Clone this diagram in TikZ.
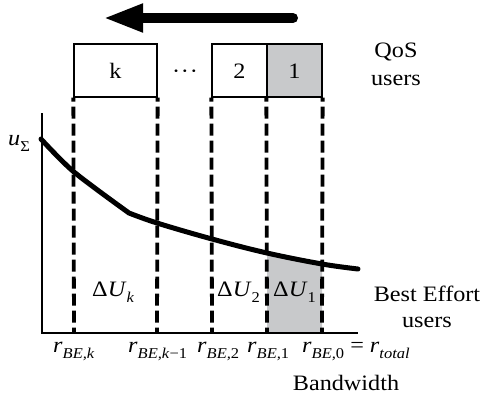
\documentclass[tikz,border=0pt]{standalone}
\usepackage{fontspec}
\setmainfont{Liberation Serif}[FakeStretch=1.1]
\usetikzlibrary{arrows.meta}
\definecolor{qosgray}{RGB}{200,201,203}
\newcommand{\mysub}[1]{\raisebox{-6pt}{\fontsize{15}{15}\selectfont #1}}
\begin{document}
\begin{tikzpicture}[x=1pt,y=-1pt,
  txt/.style={font=\fontsize{22}{26}\selectfont, inner sep=0pt},
  qbox/.style={draw, line width=1.3pt, minimum width=#1, minimum height=53pt, inner sep=0pt, font=\fontsize{22}{26}\selectfont},
  dashline/.style={line width=3.8pt, dash pattern=on 12pt off 5pt, dash phase=8pt},
  axisline/.style={line width=1.3pt},
  curveline/.style={line width=5pt, line cap=round, line join=round}]
\useasboundingbox (0,0) rectangle (483,399);

% direction arrow
\coordinate (arrs) at (293,18);
\coordinate (arre) at (103,18);
\draw[line width=10pt, line cap=round, -{Triangle[length=40pt 0, width=26pt 0]}] (arrs) -- (arre);

% QoS boxes
\node[qbox=83pt] (bk) at (115.5,70.5) {};
\node[txt, anchor=base] (lk) at (115.5,78) {k};
\node[txt, anchor=base] (dots) at (185,78) {·\hspace{0.8pt}·\hspace{0.8pt}·};
\node[qbox=55pt] (b2) at (239.5,70.5) {};
\node[txt, anchor=base] (l2) at (239.5,78) {2};
\node[qbox=55pt, fill=qosgray] (b1) at (294.5,70.5) {};
\node[txt, anchor=base] (l1) at (294.5,78) {1};
\node[txt, anchor=base] (qos) at (396,57) {QoS};
\node[txt, anchor=base] (qusers) at (396,85) {users};

% axis coordinates
\coordinate (origin) at (42,333);
\coordinate (ytop) at (42,113);
\coordinate (xend) at (358,333);
\coordinate (ak) at (74,333);
\coordinate (ak1) at (157,333);
\coordinate (a2) at (212,333);
\coordinate (a1) at (267,333);
\coordinate (a0) at (322,333);

% shaded Delta U_1 region
\fill[qosgray] (267,253.5) -- (294.5,259.3) -- (322,264) -- (a0) -- (a1) -- cycle;

% axes
\draw[axisline] (ytop) -- (origin) -- (xend);

% dashed lines
\draw[dashline] (bk.south west) -- (ak);
\draw[dashline] (bk.south east) -- (ak1);
\draw[dashline] (b2.south west) -- (a2);
\draw[dashline] (b1.south west) -- (a1);
\draw[dashline] (b1.south east) -- (a0);

% utility curve
\draw[curveline] plot[smooth, tension=0.5] coordinates {(41,139) (74,172) (129,213)}
  -- plot[smooth, tension=0.6] coordinates {(129,213) (157,223) (212,239) (267,253) (322,264) (358,269)};

% labels
\node[txt, anchor=base west] (uS) at (8,145) {\textit{u}\mysub{Σ}};
\node[txt, anchor=base west] (dUk) at (92,296) {Δ\textit{U}\mysub{\textit{k}}};
\node[txt, anchor=base west] (dU2) at (217,296) {Δ\textit{U}\mysub{2}};
\node[txt, anchor=base west] (dU1) at (273,296) {Δ\textit{U}\mysub{1}};
\node[txt, anchor=base] (be) at (427,301) {Best Effort};
\node[txt, anchor=base] (beusers) at (427,327) {users};

\node[txt, anchor=base west] (rk) at (53,352) {\textit{r}\mysub{\textit{BE,k}}};
\node[txt, anchor=base west] (rk1) at (128,352) {\textit{r}\mysub{\textit{BE,k}−1}};
\node[txt, anchor=base west] (r2) at (197,352) {\textit{r}\mysub{\textit{BE,}2}};
\node[txt, anchor=base west] (r1) at (247,352) {\textit{r}\mysub{\textit{BE,}1}};
\node[txt, anchor=base west] (r0) at (302,352) {\textit{r}\mysub{\textit{BE,}0} = \textit{r}\mysub{\textit{total}}};
\node[txt, anchor=base] (bw) at (346,390) {Bandwidth};
\end{tikzpicture}
\end{document}
